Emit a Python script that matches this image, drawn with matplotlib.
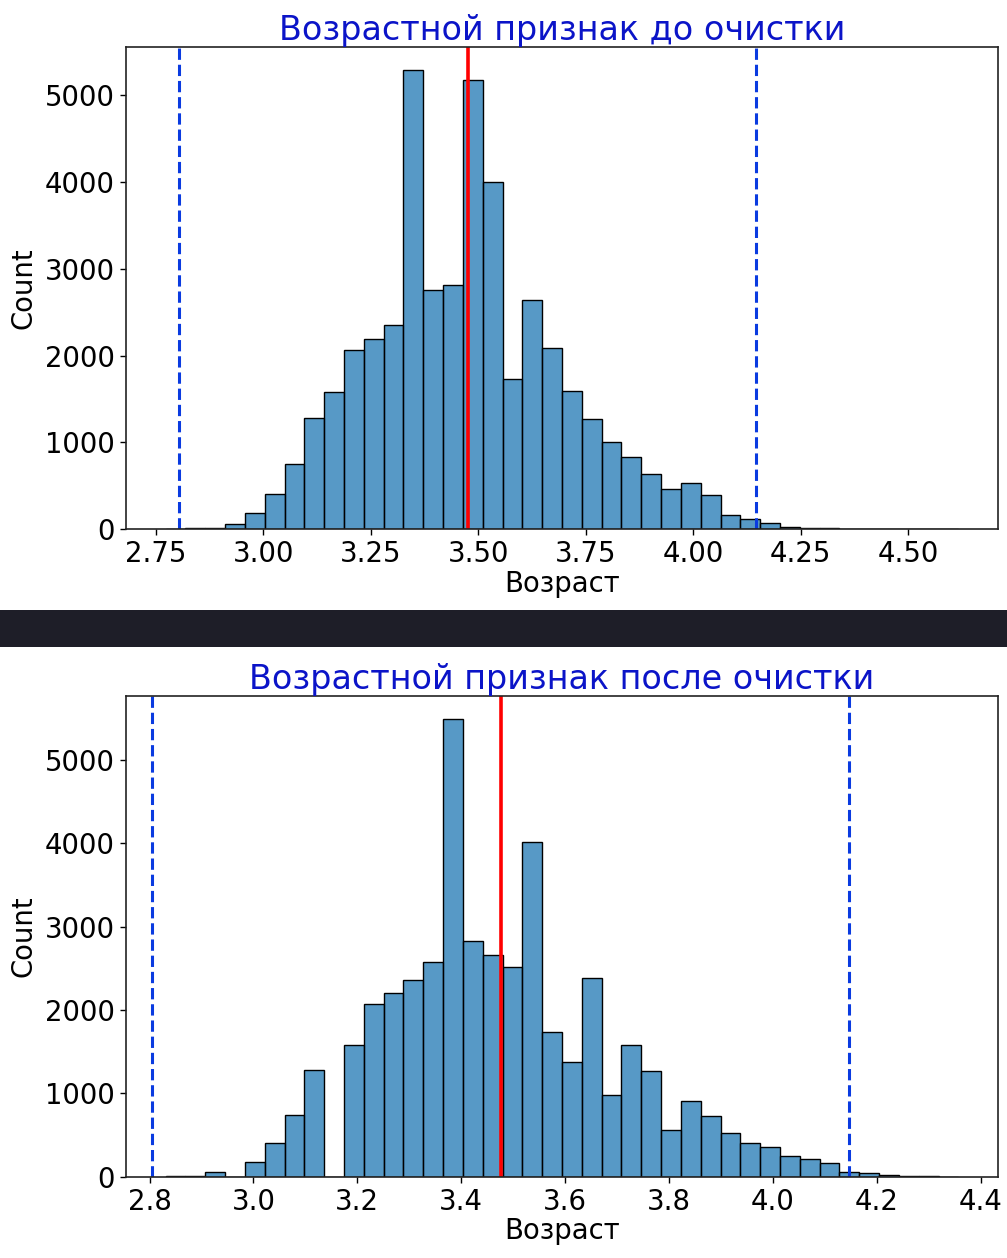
import numpy as np
import matplotlib
matplotlib.use('Agg')
import matplotlib.pyplot as plt
from matplotlib.patches import Rectangle

# ---- data ----
# histogram before cleaning: 40 bins over the data range
before_range = [2.773, 4.617]
before_counts = [2, 10, 10, 58, 181, 408, 750, 1285, 1577, 2065,
                 2192, 2354, 5296, 2758, 2815, 5181, 3996, 1731, 2642, 2092,
                 1592, 1269, 1008, 835, 635, 462, 535, 392, 158, 112,
                 73, 27, 15, 12, 5, 3, 2, 2, 1, 1]
before_xticks = [2.75, 3.00, 3.25, 3.50, 3.75, 4.00, 4.25, 4.50]

# histogram after cleaning
after_range = [2.831, 4.357]
after_counts = [8, 8, 52, 0, 172, 400, 744, 1284, 0, 1580,
                2068, 2200, 2360, 2572, 5492, 2824, 2660, 2516, 4012, 1736,
                1372, 2380, 984, 1580, 1272, 560, 904, 728, 520, 400,
                352, 248, 216, 160, 52, 40, 24, 12, 12, 2]
after_xticks = [2.8, 3.0, 3.2, 3.4, 3.6, 3.8, 4.0, 4.2, 4.4]

yticks = [0, 1000, 2000, 3000, 4000, 5000]
mean_age = 3.476
lower_bound = 2.805
upper_bound = 4.147

titles = ['Возрастной признак до очистки', 'Возрастной признак после очистки']

W, H = 1007, 1258
fig = plt.figure(figsize=(W / 100, H / 100), dpi=100)
fig.patch.set_facecolor('white')

# dark band between the two screenshots
fig.patches.append(Rectangle((0, (H - 647) / H), 1, 37 / H,
                             transform=fig.transFigure, facecolor='#1e1e28',
                             edgecolor='none', zorder=0))

bar_face = (0.122, 0.467, 0.706, 0.75)

panels = [
    (before_range, before_counts, before_xticks, titles[0], 46.7, 529.0),
    (after_range, after_counts, after_xticks, titles[1], 696.0, 1176.7),
]

for rng, counts, xticks, title, top_px, bot_px in panels:
    ax = fig.add_axes([126 / W, (H - bot_px) / H, 872 / W, (bot_px - top_px) / H])
    edges = np.linspace(rng[0], rng[1], len(counts) + 1)
    ax.bar(edges[:-1], counts, width=np.diff(edges), align='edge',
           facecolor=bar_face, edgecolor='black', linewidth=1.0)
    ax.axvline(mean_age, color='#ff0000', linewidth=2.6)
    ax.axvline(lower_bound, color='#0a3be0', linestyle='--', linewidth=2.2)
    ax.axvline(upper_bound, color='#0a3be0', linestyle='--', linewidth=2.2)

    ax.set_xticks(xticks)
    ax.set_yticks(yticks)
    ax.tick_params(labelsize=19.8, length=4.5, width=1)
    ax.set_title(title, fontsize=24, color='#0b14c8', pad=3)
    ax.set_xlabel('Возраст', fontsize=19.8, labelpad=1)
    ax.set_ylabel('Count', fontsize=19.8, labelpad=5)
    for s in ax.spines.values():
        s.set_linewidth(1.2)
        s.set_color('#222222')

plt.savefig('out.png', dpi=100)
plt.close()
